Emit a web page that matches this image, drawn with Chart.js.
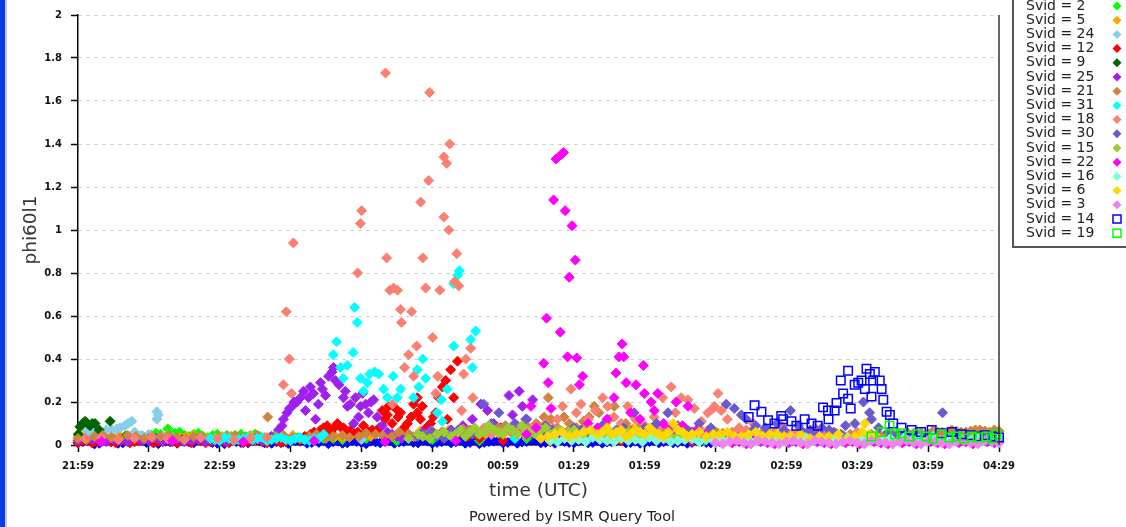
<!DOCTYPE html>
<html>
<head>
<meta charset="utf-8">
<title>phi60l1</title>
<script src="https://cdn.jsdelivr.net/npm/chart.js@4.4.1/dist/chart.umd.min.js"></script>
<style>
  html, body { margin: 0; padding: 0; background: #fff; }
  #wrap { position: relative; width: 1126px; height: 527px; }
</style>
</head>
<body>
<div id="wrap"><canvas id="chart" width="1126" height="527"></canvas></div>
<script>
// ------- Datos (minutos desde 21:59 UTC, valor phi60l1) -------
const timeTicks = ['21:59', '22:29', '22:59', '23:29', '23:59', '00:29', '00:59', '01:29', '01:59', '02:29', '02:59', '03:29', '03:59', '04:29'];

const svid1 = [[0,.01],[5,.02],[9,.008],[14,.015],[19,.01],[24,.02],[29,.012],[34,.006],[39,.015],[44,.02],[49,.01],[54,.014],[59,.008],[64,.018],[69,.012],[74,.02],[79,.01],[84,.015],[89,.007],[94,.018],[99,.012],[104,.02],[108,.015],[112,.008],[116,.02],[120,.012],[124,.018],[128,.01],[132,.02],[136,.014],[140,.022],[144,.01],[148,.018],[152,.012],[156,.02],[160,.015],[164,.008],[168,.02],[172,.012],[176,.018],[180,.01],[184,.022],[188,.014],[192,.02],[196,.01],[200,.016],[204,.022],[208,.012],[212,.018],[216,.01],[220,.02],[224,.014],[228,.02],[232,.01],[236,.018],[240,.012],[244,.02],[248,.015],[252,.01],[256,.018],[260,.012],[264,.016],[268,.01],[272,.014],
  [2,.015],[7,.005],[12,.02],[17,.008],[22,.014],[27,.02],[32,.01],[37,.018],[42,.008],[47,.015],[52,.02],[57,.012],[62,.006],[67,.016],[72,.01],[77,.018],[82,.008],[87,.015],[92,.02],[97,.008],
  [102,.012],[106,.006],[110,.018],[114,.01],[118,.016],[122,.006],[126,.014],[130,.02],[134,.008],[138,.016],[142,.012],[146,.02],[150,.008],[154,.015],[158,.01],[162,.02],[166,.012],[170,.006],[174,.016],[178,.02],[182,.012],[186,.008],[190,.016],[194,.02],[198,.012],[202,.008],[206,.016],[210,.01],[214,.02],[218,.012],[222,.008],[226,.016],[230,.02],[234,.012],[238,.008],[242,.016],[246,.01],[250,.02],[254,.012],[258,.008],[262,.02],[266,.012],[270,.018]];
const svid2 = [[2,.03],[8,.025],[14,.035],[20,.03],[26,.04],[31,.045],[35,.05],[38,.075],[41,.055],[45,.045],[49,.05],[53,.04],[57,.045],[61,.035],[65,.04],[69,.05],[73,.045],[77,.04],[81,.035],[85,.03],[90,.03],[96,.025],[104,.03],[112,.025],[122,.03],[135,.02],[150,.025],[170,.02],[190,.03],[215,.025],[240,.03],[265,.02],[300,.03],[320,.025],[345,.04],[355,.03],[365,.035],[375,.03],[385,.04],
  [5,.035],[11,.04],[17,.03],[23,.045],[28,.035],[33,.055],[43,.06],[47,.04],[51,.055],[55,.035],[59,.05],[63,.045],[67,.03],[71,.04],[75,.05],[79,.03],[83,.04],[87,.025],[93,.035],[100,.02],[108,.03]];
const svid5 = [[0,.04],[5,.03],[10,.045],[15,.035],[20,.04],[25,.03],[30,.045],[35,.035],[40,.03],[46,.04],[52,.035],[58,.03],[64,.04],[70,.035],[76,.03],[82,.04],[88,.035],[94,.03],[100,.04],[106,.045],[112,.035],[118,.05],[124,.04],[130,.045],[136,.05],[142,.04],[148,.055],[154,.045],[160,.05],[166,.06],[172,.045],[178,.055],[184,.05],[190,.06],[196,.045],[202,.055],[208,.06],[214,.05],[220,.065],[226,.05],[232,.06],[238,.055],[244,.05],[250,.06],[256,.045],[262,.05],[268,.04],[274,.05],[280,.045],[286,.04],[292,.05],[298,.04],[304,.035],[310,.045],[316,.04],[322,.035],[328,.04],[334,.03],[340,.04],[346,.035],[352,.03],[358,.04],[364,.035],[370,.03],[376,.04],[382,.035],[388,.03],
  [2.5,.05],[7.5,.035],[12.5,.025],[17.5,.045],[22.5,.03],[27.5,.04],[32.5,.025],[37.5,.045],[43,.035],[49,.045],[55,.03],[61,.04],[67,.03],[73,.045],[79,.035],[85,.03],[91,.045],[97,.035],[103,.05],[109,.04],[115,.055],[121,.045],[127,.06],[133,.04],[139,.055],[145,.065],[151,.05],[157,.07],[163,.055],[169,.065],[175,.08],[181,.06],[187,.07],[193,.055],[199,.075],[205,.065],[211,.08],[217,.06],[223,.07],[229,.055],[235,.075],[241,.06],[247,.07],[253,.05],[259,.065],[265,.045],[271,.055],[277,.04],[283,.05],[289,.035],[295,.045],[301,.05],[307,.04],[313,.035],[319,.045],[325,.03],[331,.04],[337,.035],[343,.045],[349,.03],[355,.04],[361,.03],[367,.045],[373,.035],[379,.03],[385,.04]];
const svid24 = [[1,.04],[4,.065],[6,.05],[8,.07],[9.3,.06],[12,.07],[14.4,.07],[16.4,.075],[17.8,.08],[19.9,.09],[21.2,.1],[22.8,.11],[24,.06],[27,.045],[30,.05],[33.4,.155],[33.4,.12],[34,.14],[36,.04],[40,.035],[48,.03],[60,.03],[75,.025],[95,.03],[120,.025]];
const svid12 = [[0,.01],[4,.02],[8,.015],[12,.025],[16,.01],[20,.02],[24,.015],[28,.025],[32,.01],[36,.02],[40,.015],[44,.025],[48,.01],[52,.02],[56,.015],[60,.025],[64,.01],[68,.02],[72,.015],[76,.025],[80,.01],[84,.02],[88,.015],[92,.03],[96,.04],[98.4,.05],[100,.06],[102.7,.07],[104,.08],[105.5,.09],[106.9,.06],[108,.075],[109.8,.1],[111,.085],[112.4,.08],[114,.06],[115.4,.07],[117,.05],[118.5,.06],[120.9,.09],[122.5,.065],[124.6,.07],[126.4,.06],[127.5,.08],[128.8,.16],[130,.12],[131,.14],[131.5,.18],[133,.1],[134.5,.17],[135.5,.13],[136.6,.15],[138,.08],[139.5,.1],[141,.13],[142.1,.19],[143.7,.15],[143.7,.22],[145,.12],[145.8,.18],[147.5,.08],[149.3,.1],[150.5,.13],[151.5,.15],[152.7,.22],[154.3,.27],[155.7,.3],[156.4,.12],[157.8,.35],[159.1,.22],[160.7,.39],[162,.06],[165,.04],[170,.03],[180,.02],[200,.015],[230,.02],[260,.015],
  [2,.02],[6,.01],[10,.03],[14,.015],[18,.025],[22,.01],[26,.02],[30,.03],[34,.015],[38,.025],[42,.01],[46,.02],[50,.03],[54,.01],[58,.02],[62,.015],[66,.03],[70,.01],[74,.02],[78,.015],[82,.03],[86,.01],[90,.02],[94,.025]];
const svid9 = [[0.1,.05],[0.8,.085],[2,.1],[3,.11],[4,.1],[5.1,.09],[6,.1],[7.2,.1],[9,.07],[13.6,.11],[20,.04],[30,.03]];
const svid25 = [[0,.02],[6,.025],[12,.015],[18,.02],[24,.03],[30,.02],[36,.015],[42,.025],[48,.02],[54,.015],[60,.025],[66,.02],[72,.03],[78,.02],[82,.04],[84.9,.07],[86.4,.09],[87,.12],[88.5,.15],[89.5,.17],[90.7,.18],[91.5,.2],[92.8,.2],[94.2,.22],[95.5,.25],[96.3,.16],[97.6,.22],[98.4,.27],[99.7,.24],[100.6,.12],[101.8,.19],[102.7,.29],[103.5,.26],[104.8,.23],[106.1,.32],[107.6,.34],[108.2,.36],[109,.3],[110.5,.28],[112.4,.22],[113.2,.25],[114.1,.18],[115.4,.19],[116.7,.1],[117.5,.22],[118.8,.13],[119.6,.18],[120.5,.24],[121.8,.19],[123,.15],[124,.2],[125.2,.21],[126.7,.13],[128.8,.09],[131,.06],[135,.04],[140,.05],[146,.06],[152,.04],[158,.07],[163,.09],[167,.12],[170.6,.19],[173.4,.16],[176,.1],[179,.08],[182.5,.23],[184,.14],[186.8,.25],[188.2,.18],[190,.12],[192.5,.21],[195,.09],[198,.06],[204,.05],[210,.04],[216,.05],[222,.04],[228,.03],[234,.04],[240,.03],[248,.025],[256,.03],[264,.02],[272,.025],
  [3,.03],[9,.02],[15,.025],[21,.015],[27,.02],[33,.03],[39,.02],[45,.015],[51,.025],[57,.02],[63,.015],[69,.025],[75,.03],
  [133,.05],[137,.03],[143,.04],[149,.07],[155,.05],[161,.06],[201,.04],[207,.06],[213,.03],[219,.05],[225,.04],[231,.05],[237,.03],[244,.04],[252,.03],[260,.02],[268,.03]];
const svid21 = [[0,.03],[7,.04],[14,.035],[21,.045],[28,.03],[35,.04],[42,.035],[49,.04],[56,.03],[63,.04],[70,.035],[76,.045],[80.3,.13],[84,.04],[91,.035],[98,.04],[105,.03],[112,.045],[119,.04],[126,.05],[133,.04],[140,.05],[147,.045],[154,.06],[160,.05],[166,.07],[172,.06],[178,.08],[184,.06],[190,.09],[194,.1],[197.4,.13],[199.1,.22],[200.3,.12],[203,.08],[205.8,.13],[208,.1],[211,.08],[214,.11],[216.4,.13],[218.6,.18],[220.6,.15],[223,.1],[225,.12],[227.1,.18],[230,.08],[234,.07],[238,.09],[242,.06],[247,.08],[252,.06],[258,.07],[264,.05],[270,.06],[276,.05],[282,.06],[288,.045],[294,.05],[300,.04],[306,.05],[312,.04],[318,.05],[324,.045],[330,.04],[336,.05],[342,.045],[348,.05],[354,.055],[360,.05],[364,.06],[368,.055],[372,.065],[376,.06],[380,.07],[384,.065],[388,.07],
  [3.5,.025],[10.5,.045],[17.5,.03],[24.5,.04],[31.5,.035],[38.5,.045],[45.5,.03],[52.5,.04],[59.5,.035],[66.5,.045],[73,.03],[87,.045],[94,.03],[101,.05],[108,.04],[115,.035],[122,.055],[129,.045],[136,.06],[143,.04],[150,.065],[157,.05],[163,.075],[169,.055],[175,.065],[181,.09],[187,.07],[232,.1],[236,.06],[244,.09],[250,.07],[255,.08],[261,.06],[267,.07],[273,.055],[279,.065],[285,.05],[291,.06],[297,.05],[303,.045],[309,.055],[315,.045],[321,.055],[327,.05],[333,.045],[339,.055],[345,.05],[351,.06],[357,.055],[362,.065],[366,.06],[370,.07],[374,.06],[378,.065],[382,.07],[386,.06],[390,.065]];
const svid31 = [[56,.03],[60,.02],[64,.03],[68,.025],[72,.035],[76,.03],[80,.02],[84,.03],[88,.025],[92,.03],[96,.025],[100,.03],[104,.05],[108.1,.42],[109.5,.48],[111.2,.36],[112.3,.31],[114,.37],[116.5,.43],[117.1,.64],[118.2,.57],[119.6,.31],[120.9,.25],[122.5,.29],[123.5,.33],[125.6,.34],[127.3,.33],[129.4,.26],[131,.22],[133.5,.32],[135.2,.22],[136.6,.26],[142.1,.22],[143.7,.35],[144.3,.27],[146,.4],[147.2,.31],[152.2,.15],[153.9,.21],[154.3,.11],[156.4,.26],[159.1,.46],[159.1,.75],[160.8,.79],[161.5,.81],[166.3,.49],[167,.36],[168.4,.53],[175,.05],[185,.03],[200,.02],
  [58,.025],[62,.035],[66,.02],[70,.03],[74,.025],[78,.035],[82,.025],[86,.035],[90,.02],[94,.035],[98,.02],[102,.03]];
const svid18 = [[3,.03],[10,.035],[17,.025],[24,.03],[31,.04],[38,.03],[45,.025],[52,.035],[59,.03],[66,.025],[73,.03],[80,.035],[87,.28],[88.2,.62],[89.5,.4],[90.4,.24],[91.2,.94],[118.4,.8],[119.6,1.03],[120.1,1.09],[130.2,1.73],[130.7,.87],[132,.72],[133.2,.19],[133.6,.73],[135.3,.72],[136.6,.63],[137,.57],[138.3,.36],[140,.42],[141.3,.62],[142.1,.32],[143.4,.46],[145.1,1.13],[146,.87],[147.2,.73],[148.5,1.23],[148.9,1.64],[150.2,.5],[151.5,.24],[152.3,.32],[153.2,.72],[154.9,1.34],[154.9,1.06],[156.1,1.31],[157,1.0],[157.4,1.4],[159.5,.76],[160.4,.89],[161.2,.74],[162.5,.16],[163.3,.33],[164.2,.4],[166.3,.45],[167.2,.22],[172,.08],[180,.06],[186,.09],[192,.07],[198,.1],[203,.12],[205.2,.18],[208.7,.26],[211,.15],[213,.19],[216,.12],[219,.16],[222.2,.22],[224.3,.18],[227,.13],[230,.1],[232.8,.18],[236,.12],[240,.09],[244,.13],[247.6,.22],[251.2,.27],[253,.15],[255.4,.22],[258.3,.21],[261,.17],[264,.11],[266.7,.15],[268.9,.17],[269.5,.18],[271,.24],[272.4,.16],[275,.12],[280,.08],[286,.1],[292,.07],[298,.09],[305,.06],[312,.08],[320,.05],[330,.06],[345,.04],[360,.03],[375,.035],
  [175,.05],[183,.07],[189,.05],[195,.06],[201,.08],[207,.06],[214,.07],[221,.05],[229,.07],[238,.06],[246,.08],[257,.06],[263,.08],[277,.06],[283,.07],[289,.05],[295,.06],[302,.05],[309,.06],[316,.04]];
const svid30 = [[140,.03],[146,.05],[152,.04],[158,.06],[164,.05],[171.8,.19],[175,.1],[178.2,.15],[182,.08],[185,.1],[189.6,.12],[193,.07],[198,.09],[204,.06],[210,.08],[216,.06],[222,.09],[228,.07],[235.5,.15],[240,.08],[245,.1],[249.8,.15],[254,.09],[258,.07],[263,.1],[268,.08],[274.5,.19],[277.9,.17],[280.9,.14],[283,.12],[287,.09],[291,.08],[296,.1],[301.7,.16],[305,.09],[310,.07],[315,.08],[320,.06],[325,.09],[329,.1],[332.6,.2],[335.2,.15],[336,.12],[339,.08],[343,.06],[350,.05],[357,.04],[366.1,.15],[372,.03],[380,.03],[388,.025],
  [144,.04],[150,.06],[155,.03],[161,.07],[167,.05],[196,.05],[201,.07],[207,.05],[213,.07],[219,.05],[225,.06],[231,.08],[243,.06],[251,.05],[260,.06],[266,.05],[285,.06],[293,.05],[299,.07],[307,.06],[313,.05],[318,.07],[323,.05],[346,.04],[353,.035],[361,.04],[368,.03],[376,.035],[384,.03]];
const svid15 = [[140,.03],[146,.04],[152,.05],[158,.04],[162,.07],[166,.06],[170,.05],[174,.09],[178,.06],[182,.08],[186,.05],[190,.07],[194,.05],[198,.08],[202,.06],[206,.05],[210,.07],[214,.05],[218,.06],[222,.04],[226,.05],[230,.04],[236,.05],[242,.04],[248,.03],[254,.04],[260,.03],
  [144,.05],[149,.03],[155,.06],[160,.05],[164,.04],[168,.08],[172,.06],[176,.07],[180,.05],[184,.07],[188,.09],[192,.06],[196,.07],[200,.05],[204,.07],[208,.06],[212,.04],[216,.07],[220,.05],[224,.06],[228,.05],[233,.06],[239,.04],[245,.05],[251,.04],[257,.03]];
const svid22 = [[10,.015],[40,.02],[70,.015],[100,.02],[130,.015],[160,.02],[190,.05],[191.8,.18],[194,.08],[197.2,.38],[198.4,.59],[199.1,.29],[200.3,.17],[201.4,1.14],[202.4,1.33],[204.2,.525],[204.5,1.35],[205.6,1.36],[206.3,1.09],[207.3,.41],[208,.78],[209.2,1.02],[210.6,.86],[211.2,.405],[212.3,.28],[213.7,.32],[216,.1],[220,.08],[224,.12],[227,.22],[227.8,.335],[229.1,.41],[230.4,.47],[231.1,.41],[232.1,.29],[234,.15],[236.3,.28],[238,.12],[239.4,.37],[239.8,.24],[242.7,.2],[244,.16],[245.5,.24],[248,.1],[251,.08],[253.3,.2],[256,.09],[258.3,.18],[262,.07],[266,.05],[270,.03],[274,.02],[280,.015],[286,.02],[292,.01],[298,.02],[304,.015],[310,.02],[316,.01],[322,.02],[328,.015],[334,.02],[340,.01],[346,.02],[352,.015],[358,.02],[364,.01],[370,.02],[376,.015],[382,.02],[388,.01],
  [277,.01],[283,.005],[289,.015],[295,.005],[301,.01],[307,.005],[313,.015],[319,.005],[325,.01],[331,.005],[337,.015],[343,.005],[349,.01],[355,.005],[361,.015],[367,.005],[373,.01],[379,.005],[385,.015]];
const svid16 = [[200,.02],[206,.03],[212,.025],[218,.035],[224,.02],[230,.03],[236,.025],[242,.035],[248,.03],[254,.02],[260,.03],[266,.025],[272,.035],[278,.03],[284,.025],[290,.035],[296,.03],[302,.025],[308,.035],[314,.03],[320,.025],[326,.035],[332,.03],[338,.04],[344,.03],[350,.035],[356,.03],[362,.04],[368,.035],[374,.03],[380,.04],[386,.035],[390,.03],
  [203,.015],[209,.02],[215,.015],[221,.025],[227,.015],[233,.02],[239,.015],[245,.02],[251,.015],[257,.025],[263,.015],[269,.02],[275,.015],[281,.02],[287,.015],[293,.02],[299,.015],[305,.02],[311,.015],[317,.02],[323,.015],[329,.02],[335,.015],[341,.02],[347,.015],[353,.02],[359,.015],[365,.02],[371,.015],[377,.02],[383,.015],[389,.02]];
const svid6 = [[196,.03],[202,.05],[208,.04],[214,.06],[220,.05],[224,.08],[228,.06],[232,.04],[236,.07],[240,.05],[244,.06],[248,.04],[252,.1],[256,.06],[260,.05],[266,.04],[272,.05],[278,.04],[284,.05],[290,.04],[296,.05],[302,.04],[310,.03],[318,.04],[326,.03],[332,.06],[333.2,.1],[338,.04],
  [199,.04],[205,.06],[211,.05],[217,.07],[222,.06],[226,.05],[230,.07],[234,.05],[238,.06],[242,.08],[246,.05],[250,.06],[254,.07],[258,.04],[263,.06],[269,.05],[275,.06],[281,.04],[287,.06],[293,.05],[299,.04],[306,.05],[314,.04],[322,.05],[329,.04],[335,.05]];
const svid3 = [[270,.01],[276,.015],[282,.01],[288,.02],[294,.01],[300,.015],[306,.01],[312,.02],[318,.01],[324,.015],[330,.01],[336,.02],[342,.01],[348,.015],[354,.01],[360,.02],[366,.01],[372,.015],[378,.01],[384,.02],[390,.01],
  [273,.005],[279,.02],[285,.005],[291,.015],[297,.005],[303,.02],[309,.005],[315,.015],[321,.005],[327,.02],[333,.005],[339,.015],[345,.005],[351,.02],[357,.005],[363,.015],[369,.005],[375,.02],[381,.005],[387,.015]];
const svid14 = [[284,.13],[286.5,.185],[289.4,.155],[292.2,.115],[294.9,.1],[297.8,.135],[298.6,.12],[302.1,.11],[304.2,.09],[307.7,.12],[310.6,.1],[313.2,.09],[315.5,.175],[317.6,.16],[317.8,.12],[320.4,.16],[321.2,.195],[323,.3],[324,.24],[326.1,.215],[326.1,.345],[327.2,.17],[328.9,.28],[330.4,.29],[331.8,.3],[333.2,.26],[333.9,.355],[335.3,.33],[336,.225],[336.7,.3],[337.4,.34],[339.5,.3],[340.3,.26],[341,.21],[342.4,.155],[343.8,.14],[345.2,.1],[348.7,.08],[353,.07],[357,.06],[361.5,.07],[365.7,.055],[370,.06],[374.2,.05],[378,.045],[381.3,.04],[384,.045],[387,.04],[390,.035]];
const svid19 = [[336,.04],[340.3,.06],[343.7,.09],[346,.05],[348.7,.055],[352,.04],[355.1,.05],[359.4,.04],[362,.03],[365.7,.05],[369,.035],[372,.04],[375,.03],[378.4,.04],[381,.035],[384.8,.04],[387,.03],[389,.05]];

const svidIds    = [1, 2, 5, 24, 12, 9, 25, 21, 31, 18, 30, 15, 22, 16, 6, 3, 14, 19];
const svidSeries = [svid1, svid2, svid5, svid24, svid12, svid9, svid25, svid21, svid31, svid18, svid30, svid15, svid22, svid16, svid6, svid3, svid14, svid19];
const svidColors = ['#0000ff', '#00ff00', '#ffa500', '#87ceeb', '#ff0000', '#006400', '#a020f0', '#cd853f', '#00ffff', '#fa8072', '#6a5acd', '#9acd32', '#ff00ff', '#7fffd4', '#ffd700', '#ee82ee', '#0000ff', '#00ff00'];
const squareIds  = [14, 19];

(function () {
    const FONT = '"DejaVu Sans", sans-serif';

    // ------- Plugin: fondo, leyenda a la derecha, marco derecho y pie -------
    const extras = {
        id: 'extras',
        beforeDraw(chart) {
            const ctx = chart.ctx;
            ctx.save();
            ctx.fillStyle = '#fff';
            ctx.fillRect(0, 0, chart.width, chart.height);
            ctx.fillStyle = '#0b3de6';
            ctx.fillRect(0, 0, 5, chart.height);
            ctx.fillStyle = '#c4cbe6';
            ctx.fillRect(5, 0, 2, chart.height);
            ctx.restore();
        },
        afterDraw(chart) {
            const ctx = chart.ctx;
            const a = chart.chartArea;
            ctx.save();
            // marco derecho
            ctx.strokeStyle = '#333';
            ctx.lineWidth = 1.5;
            ctx.beginPath();
            ctx.moveTo(a.right, a.top);
            ctx.lineTo(a.right, a.bottom);
            ctx.stroke();

            // leyenda (la primera fila queda por encima del borde)
            ctx.fillStyle = '#fff';
            ctx.fillRect(1013, -4, 120, 251);
            ctx.strokeStyle = '#555';
            ctx.lineWidth = 2;
            ctx.strokeRect(1013, -6, 130, 253);
            ctx.font = '14px ' + FONT;
            ctx.textBaseline = 'middle';
            chart.data.datasets.forEach((ds, i) => {
                const y = 6 + (i - 1) * 14.2;
                ctx.fillStyle = '#222';
                ctx.fillText(ds.label, 1026, y);
                const x = 1117;
                if (ds.pointStyle === 'rect') {
                    ctx.strokeStyle = ds.borderColor;
                    ctx.lineWidth = 1.5;
                    ctx.strokeRect(x - 4, y - 4, 8, 8);
                } else {
                    ctx.fillStyle = ds.backgroundColor;
                    ctx.beginPath();
                    ctx.moveTo(x - 4.5, y);
                    ctx.lineTo(x, y - 4.5);
                    ctx.lineTo(x + 4.5, y);
                    ctx.lineTo(x, y + 4.5);
                    ctx.closePath();
                    ctx.fill();
                }
            });

            // pie
            ctx.fillStyle = '#222';
            ctx.font = '14.5px ' + FONT;
            ctx.textAlign = 'center';
            ctx.fillText('Powered by ISMR Query Tool', 572, 517);
            ctx.restore();
        }
    };

    const datasets = svidIds.map((id, i) => {
        const sq = squareIds.includes(id);
        return {
            label: 'Svid = ' + id,
            data: svidSeries[i].map(p => ({ x: p[0], y: p[1] })),
            pointStyle: sq ? 'rect' : 'rectRot',
            pointRadius: sq ? 6 : 5,
            pointBorderWidth: sq ? 1.5 : 1,
            backgroundColor: sq ? 'rgba(0,0,0,0)' : svidColors[i],
            borderColor: svidColors[i],
            showLine: false,
            clip: false,
            order: -i
        };
    });

    new Chart(document.getElementById('chart'), {
        type: 'scatter',
        data: { datasets },
        plugins: [extras],
        options: {
            responsive: false,
            animation: false,
            events: [],
            layout: { padding: { left: 7, top: 13, right: 127, bottom: 0 } },
            plugins: { legend: { display: false }, tooltip: { enabled: false } },
            scales: {
                x: {
                    type: 'linear',
                    min: 0,
                    max: 390,
                    afterFit: s => { s.height = 82; },
                    ticks: {
                        stepSize: 30,
                        padding: 8,
                        color: '#111',
                        font: { family: FONT, size: 10, weight: 'bold' },
                        maxRotation: 0,
                        autoSkip: false,
                        callback: v => timeTicks[Math.round(v / 30)]
                    },
                    grid: { drawOnChartArea: false, tickLength: 7, tickColor: '#000', tickWidth: 1.5 },
                    border: { color: '#000', width: 1.5 },
                    title: {
                        display: true,
                        text: 'time (UTC)',
                        color: '#333',
                        font: { family: FONT, size: 18.5 },
                        padding: { top: 0, bottom: 25 }
                    }
                },
                y: {
                    min: 0,
                    max: 2,
                    afterFit: s => { s.width = 71; },
                    ticks: {
                        stepSize: 0.2,
                        padding: 9,
                        color: '#111',
                        font: { family: FONT, size: 10, weight: 'bold' },
                        callback: v => String(Math.round(v * 10) / 10)
                    },
                    grid: { color: '#c8c8c8', lineWidth: 1, tickLength: 7, tickColor: '#000', tickWidth: 1.5, tickBorderDash: [] },
                    border: { color: '#000', width: 1.5, dash: [3, 5] },
                    title: {
                        display: true,
                        text: 'phi60l1',
                        color: '#333',
                        font: { family: FONT, size: 18.5 },
                        padding: { top: 13, bottom: 0 }
                    }
                }
            }
        }
    });
})();
</script>
</body>
</html>
